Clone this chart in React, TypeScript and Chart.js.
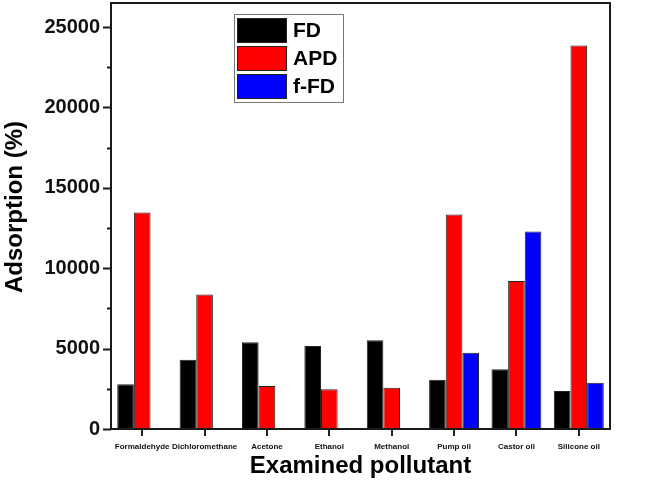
import React, { useEffect, useRef } from 'react';
import { Chart, registerables } from 'chart.js';
Chart.register(...registerables);

const categories = ['Formaldehyde', 'Dichloromethane', 'Acetone', 'Ethanol', 'Methanol', 'Pump oil', 'Castor oil', 'Silicone oil'];
const seriesLabels = ['FD', 'APD', 'f-FD'];
const fdValues = [2780, 4310, 5390, 5170, 5520, 3070, 3710, 2370];
const apdValues = [13460, 8360, 2680, 2470, 2570, 13340, 9210, 23860];
const ffdValues = [null, null, null, null, null, 4750, 12280, 2880];
const seriesColors = ['#000000', '#ff0000', '#0000ff'];
const yMajorTicks = [0, 5000, 10000, 15000, 20000, 25000];
const yMinorTicks = [2500, 7500, 12500, 17500, 22500];
const yMax = 26500;
const yTitle = 'Adsorption (%)';
const xTitle = 'Examined pollutant';

const FONT = 'Arial, "Liberation Sans", sans-serif';

const decorPlugin = {
  id: 'decor',
  afterDraw(chart: any) {
    const { ctx, chartArea } = chart;
    const y = chart.scales.y;
    ctx.save();
    // frame
    ctx.strokeStyle = '#1a1a1a';
    ctx.lineWidth = 2;
    ctx.strokeRect(chartArea.left, chartArea.top, chartArea.right - chartArea.left, chartArea.bottom - chartArea.top);
    // y ticks
    ctx.beginPath();
    yMajorTicks.forEach((v) => {
      const py = Math.round(y.getPixelForValue(v)) + 0.5;
      ctx.moveTo(chartArea.left - 8, py);
      ctx.lineTo(chartArea.left, py);
    });
    yMinorTicks.forEach((v) => {
      const py = Math.round(y.getPixelForValue(v)) + 0.5;
      ctx.moveTo(chartArea.left - 4, py);
      ctx.lineTo(chartArea.left, py);
    });
    ctx.lineWidth = 2;
    ctx.stroke();
    // y title
    ctx.save();
    ctx.translate(15, 207);
    ctx.rotate(-Math.PI / 2);
    ctx.font = `bold 24px ${FONT}`;
    ctx.fillStyle = '#000';
    ctx.textAlign = 'center';
    ctx.textBaseline = 'middle';
    ctx.fillText(yTitle, 0, 0);
    ctx.restore();
    // legend
    const lx = 234, ly = 14, lw = 109, lh = 88;
    ctx.fillStyle = '#fff';
    ctx.fillRect(lx, ly, lw, lh);
    ctx.strokeStyle = '#777';
    ctx.lineWidth = 1;
    ctx.strokeRect(lx + 0.5, ly + 0.5, lw, lh);
    chart.data.datasets.forEach((ds: any, i: number) => {
      const sy = 18 + i * 28;
      ctx.fillStyle = ds.backgroundColor;
      ctx.fillRect(237, sy, 50, 25);
      ctx.strokeStyle = '#222';
      ctx.strokeRect(237.5, sy + 0.5, 49, 24);
      ctx.fillStyle = '#000';
      ctx.font = `bold 21px ${FONT}`;
      ctx.textAlign = 'left';
      ctx.textBaseline = 'middle';
      ctx.fillText(ds.label, 293, sy + 13);
    });
    ctx.restore();
  },
};

export default function App() {
  const ref = useRef<HTMLCanvasElement>(null);
  useEffect(() => {
    document.body.style.margin = '0';
    const chart = new Chart(ref.current!, {
      type: 'bar',
      data: {
        labels: categories,
        datasets: [fdValues, apdValues, ffdValues].map((d, i) => ({
          label: seriesLabels[i],
          data: d as any,
          backgroundColor: seriesColors[i],
          borderColor: '#222',
          borderWidth: 1,
          barPercentage: 1,
          categoryPercentage: 0.8,
        })),
      },
      options: {
        responsive: false,
        animation: false,
        layout: { padding: { top: 3, right: 35, left: 0, bottom: 0 } },
        plugins: { legend: { display: false }, tooltip: { enabled: false } },
        scales: {
          x: {
            offset: true,
            grid: { display: true, drawOnChartArea: false, offset: false, tickLength: 7, color: '#222', lineWidth: 2 },
            border: { display: false },
            ticks: { font: { size: 8, weight: 'bold', family: FONT }, color: '#111', padding: 6, maxRotation: 0, autoSkip: false },
            title: { display: true, text: xTitle, font: { size: 24, weight: 'bold', family: FONT }, color: '#000', padding: { top: 0, bottom: 10 } },
            afterFit: (s: any) => { s.height = 62; s.paddingLeft = 0; s.paddingRight = 0; },
          },
          y: {
            min: 0,
            max: yMax,
            afterBuildTicks: (s: any) => { s.ticks = yMajorTicks.map((v) => ({ value: v })); },
            grid: { display: false },
            border: { display: false },
            ticks: { font: { size: 20, weight: 'bold', family: FONT }, color: '#111', padding: 3, callback: (v: any) => String(v) },
            afterFit: (s: any) => { s.width = 111; s.paddingTop = 0; s.paddingBottom = 0; },
          },
        },
      },
      plugins: [decorPlugin],
    } as any);
    return () => chart.destroy();
  }, []);
  return <canvas ref={ref} width={645} height={491} style={{ display: 'block' }} />;
}
